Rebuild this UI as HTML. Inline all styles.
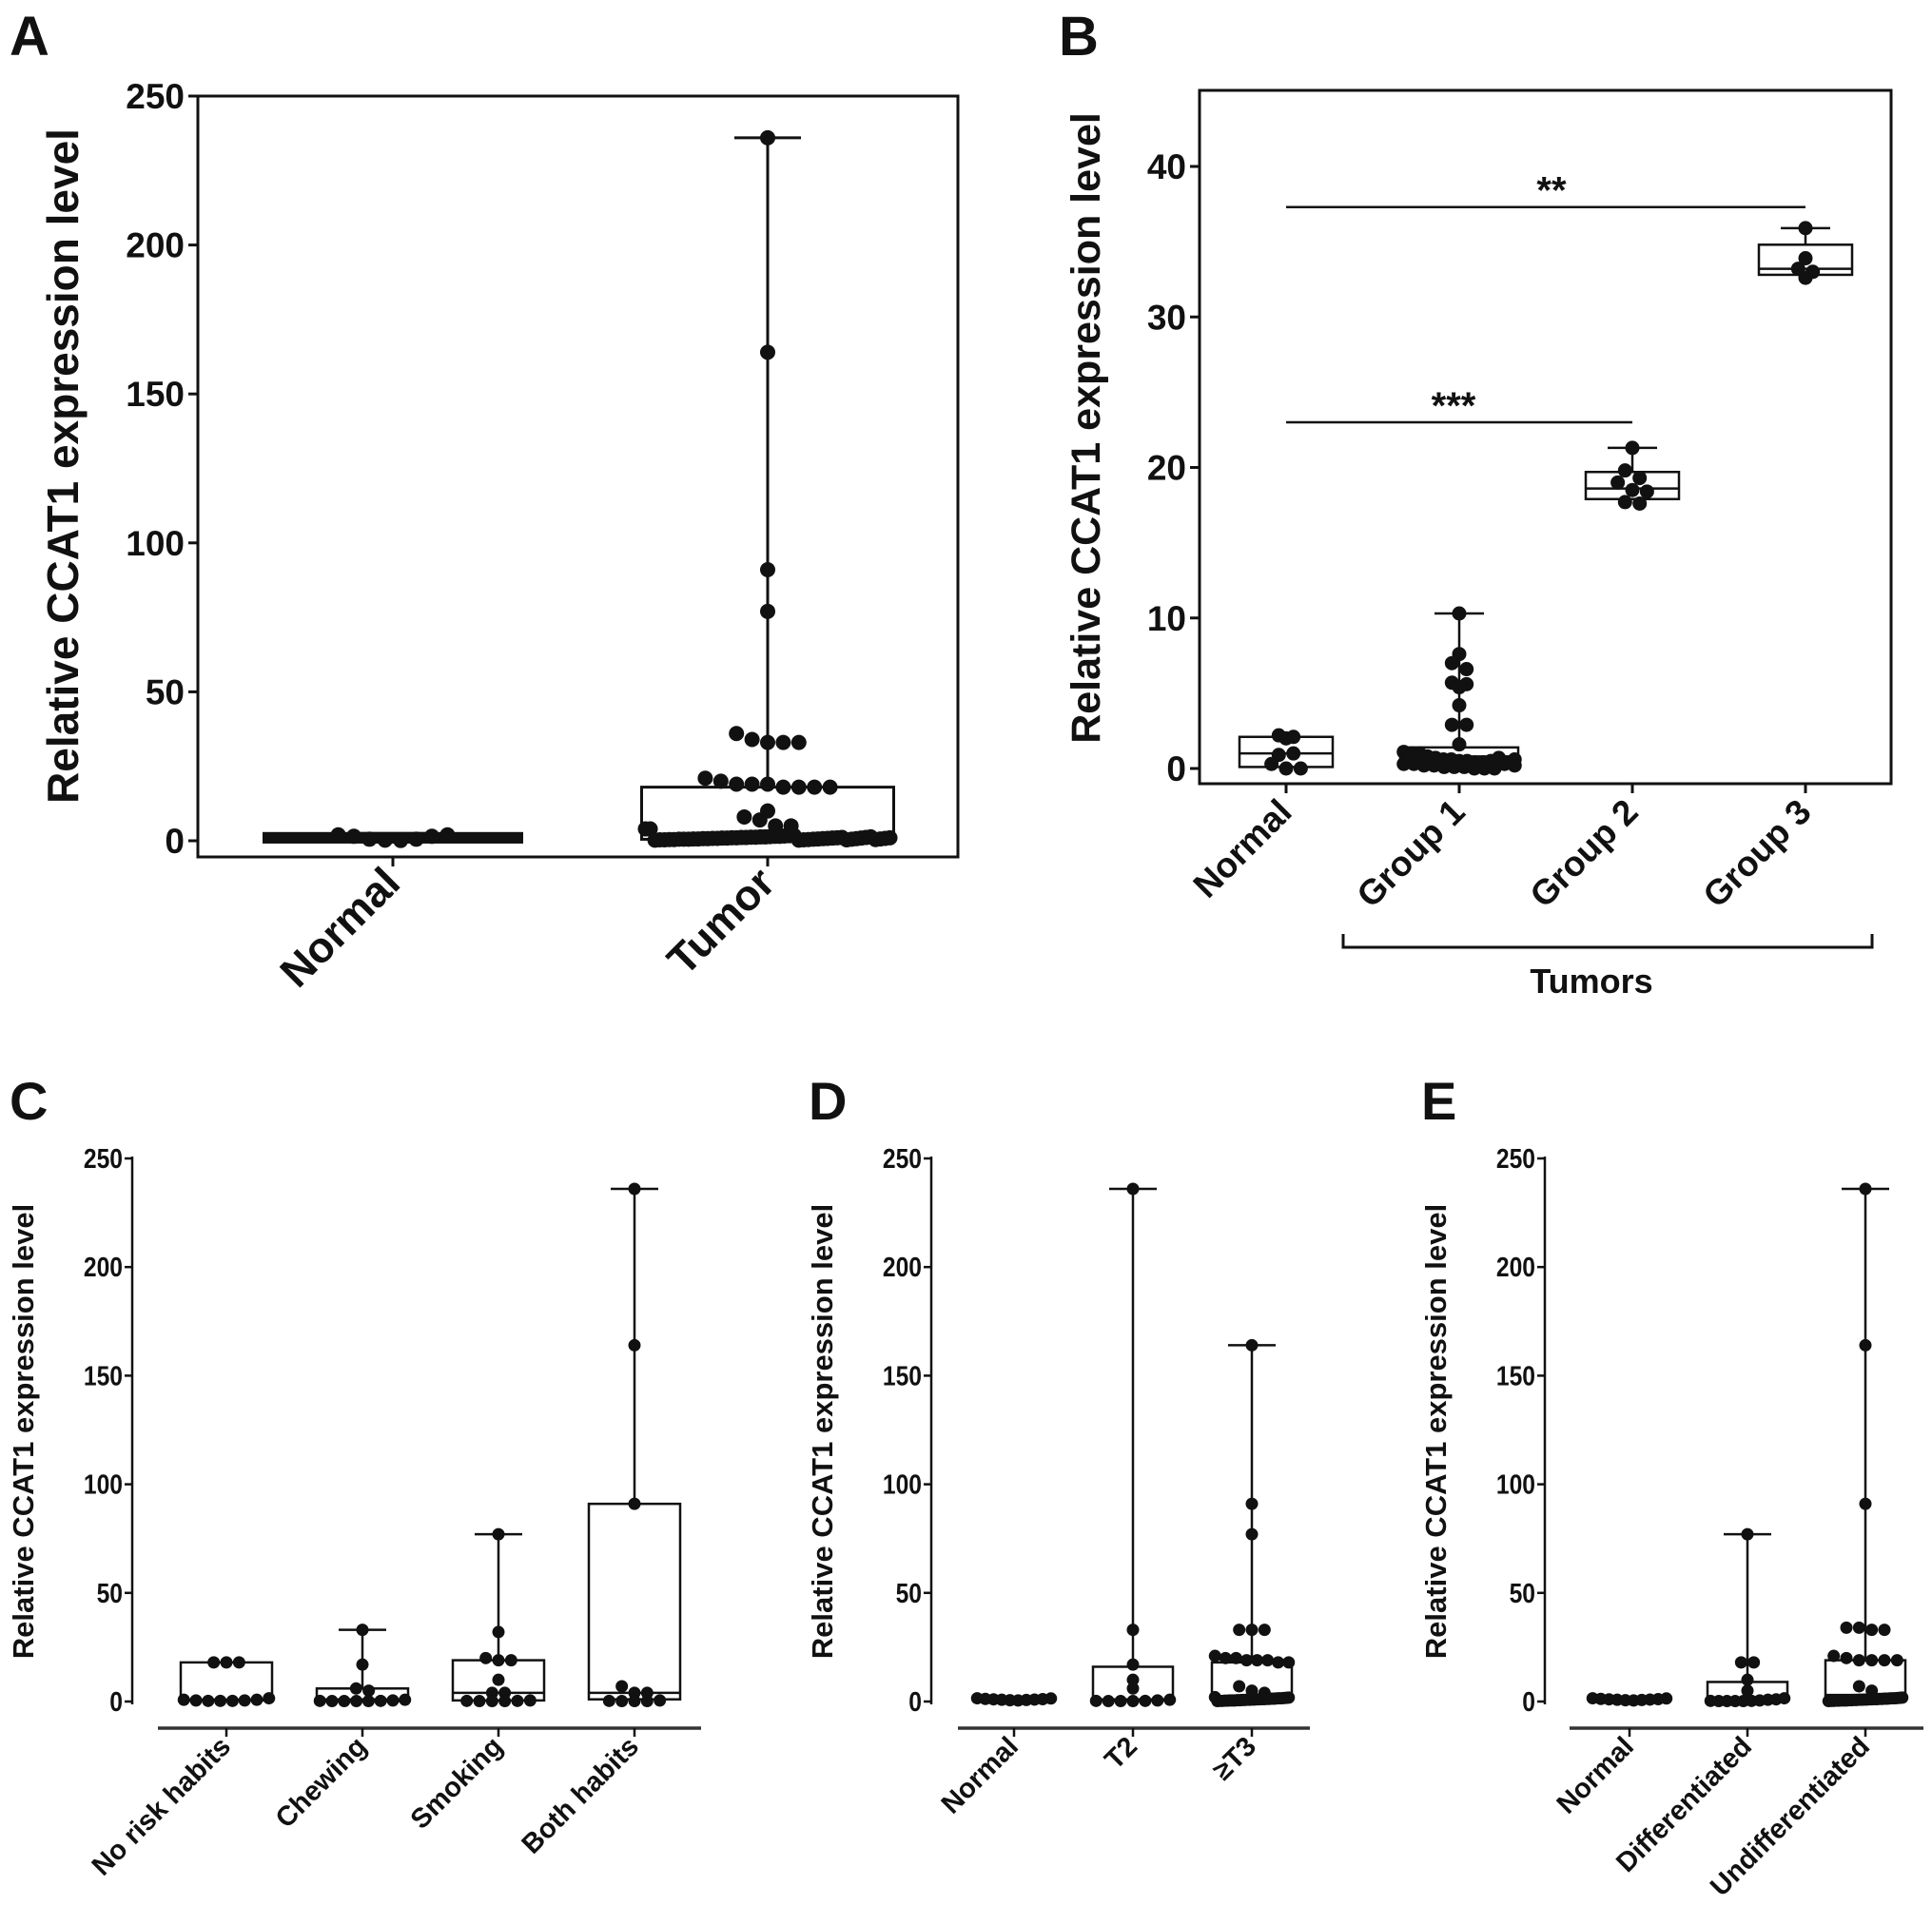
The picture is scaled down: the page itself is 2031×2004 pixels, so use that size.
<!DOCTYPE html>
<html><head><meta charset="utf-8"><style>
html,body{margin:0;padding:0;background:#fff}
svg{display:block}
text{font-family:"Liberation Sans",sans-serif;font-weight:bold;fill:#111}
</style></head><body>
<svg id="fig" width="2031" height="2004" viewBox="0 0 2031 2004" xmlns="http://www.w3.org/2000/svg">
<g id="layer"></g>
</svg>
<script>
// ---------- DATA ----------
const smallVals = [0.2,0.3,0.3,0.4,0.4,0.5,0.5,0.5,0.6,0.6,0.7,0.7,0.8,0.8,0.9,0.9,1.0,1.0,1.1,1.1,1.2,1.2,1.3,1.3,1.4,1.5,1.5,1.6,1.7,1.8,0.2,0.3,0.4,0.5,0.6,0.7,0.8,0.9,1.0,1.1,0.3,0.5,0.7,0.9,1.1,1.3,0.4,0.6,0.8,1.0];
const aCategories = ["Normal","Tumor"];
const aNormal = [2.0,1.5,0.5,0.2,0.1,0.5,1.5,2.0];
const aTumor = [236,164,91,77,36,34,33,33,33,21,20,19,19,19,18,18,18,18,10,8,7,5,5,4,4].concat(smallVals);
const aStats = [[0.5,1,1.5,0.5,1.5],[0.5,2,18,0.5,236]]; // q1,med,q3,min,max
const aTicks = [0,50,100,150,200,250];

const bCategories = ["Normal","Group 1","Group 2","Group 3"];
const bNormal = [2.2,2.0,2.1,0.3,0.0,0.0,0.9,1.0];
const bGroup1 = [10.3,7.6,7.0,6.6,5.7,5.6,5.4,4.2,2.9,2.9,1.6,1.1,1.0,1.0,0.8,0.7,0.6,0.6,0.5,0.5,0.4,0.4,0.3,0.3,0.2,0.2,0.1,0.1,0.1,0.0,0.0,0.0,0.3,0.5,0.7,0.2,0.4,0.6];
const bGroup2 = [21.3,19.8,19.3,19.0,18.5,18.4,17.7,17.6];
const bGroup3 = [35.9,33.9,33.2,33.0,32.6];
const bStats = [[0.1,1.0,2.1,0.1,2.1],[0.3,0.8,1.4,0.0,10.3],[17.9,18.6,19.7,17.6,21.3],[32.8,33.2,34.8,32.5,35.9]];
const bTicks = [0,10,20,30,40];
const bSig = [[0,3,37.3,"**"],[0,2,23.0,"***"]];

const cCategories = ["No risk habits","Chewing","Smoking","Both habits"];
const cNoRisk = [18,18,18,0.8,0.5,0.3,0.3,0.3,0.5,0.8,1.5];
const cChewing = [33,17,6,5,0.3,0.2,0.2,0.2,0.2,0.3,0.5,0.8];
const cSmoking = [77,32,20,19,19,10,4,4,0.3,0.2,0.2,0.2,0.3,0.5];
const cBoth = [236,164,91,7,4,4,0.3,0.2,0.2,0.2,0.5];
const cStats = [[0.5,0.8,18,null,null],[0.2,1,6,0.2,33],[0.5,4,19,0.2,77],[1,4,91,0.2,236]];
const cdeTicks = [0,50,100,150,200,250];

const dCategories = ["Normal","T2","\u2265T3"];
const dNormal = [1.5,1.2,1.0,0.8,0.6,0.5,0.7,0.9,1.1,1.4];
const dT2 = [236,33,17,10,6,0.3,0.2,0.2,0.2,0.3,0.5,0.8];
const dT3 = [164,91,77,33,33,33,21,20,20,19,19,19,18,18,7,5,4,2].concat(smallVals.slice(0,30));
const dStats = [[0.6,1,1.4,0.5,1.5],[0.5,1,16,0.2,236],[0.5,2,18,0.2,164]];

const eCategories = ["Normal","Differentiated","Undifferentiated"];
const eNormal = dNormal.slice();
const eDiff = [77,18,18,10,5,0.3,0.2,0.2,0.2,0.2,0.3,0.5,0.8,1.0,1.5];
const eUndiff = [236,164,91,34,34,33,33,21,20,19,19,19,19,7,5].concat(smallVals.slice(0,30));
const eStats = [[0.6,1,1.4,0.5,1.5],[0.2,1,9,0.2,77],[0.2,3,19,0.2,236]];

// ---------- DRAWING ----------
const NS="http://www.w3.org/2000/svg";
const root=document.getElementById('layer');
function el(tag,attrs,parent,txt){const e=document.createElementNS(NS,tag);for(const k in attrs)e.setAttribute(k,attrs[k]);if(txt!==undefined)e.textContent=txt;(parent||root).appendChild(e);return e;}
function linScale(d0,d1,r0,r1){return v=>r0+(v-d0)*(r1-r0)/(d1-d0);}

function drawGroup(g,xc,vals,st,y,opt){
  const [q1,med,q3,mn,mx]=st;const hw=opt.boxW/2,cw=opt.capW/2,sw=opt.sw;
  if(mx!==null){
    const w1=el('line',{x1:xc,x2:xc,y1:y(mx),y2:y(q3),stroke:'#111','stroke-width':sw},g);
    
    const c1=el('line',{x1:xc-cw,x2:xc+cw,y1:y(mx),y2:y(mx),stroke:'#111','stroke-width':sw},g);
    
  }
  const h=Math.max(1,y(q1)-y(q3));
  const box=el('rect',{x:xc-hw,y:y(q3),width:2*hw,height:h,fill:'none',stroke:'#111','stroke-width':sw},g);
  
  const md=el('line',{x1:xc-hw,x2:xc+hw,y1:y(med),y2:y(med),stroke:'#111','stroke-width':sw},g);
  
  const r=opt.r,bins={};
  vals.forEach(v=>{const py=y(v);const k=Math.round(py/(r*1.8));(bins[k]=bins[k]||[]).push(py);});
  for(const k in bins){const arr=bins[k],n=arr.length;const sp=n>1?Math.min(r*2.05,(opt.boxW-r)/(n-1)):0;
    arr.forEach((py,i)=>{const off=(i-(n-1)/2)*sp;
      const c=el('circle',{cx:xc+off,cy:py,r:r,fill:'#111'},g);
      });}
}

// Panel A
(function(){
  const g=el('g',{});
  const L=208,R=1007,T=101,B=901;
  const y=linScale(0,250,884,101);
  const x=linScale(0,1,413,807);
  const fr=el('rect',{x:L,y:T,width:R-L,height:B-T,fill:'none',stroke:'#111','stroke-width':3},g);
  
  aTicks.forEach(t=>{el('line',{x1:L-10,x2:L,y1:y(t),y2:y(t),stroke:'#111','stroke-width':3},g);
    const tl=el('text',{x:L-14,y:y(t)+13,'text-anchor':'end','font-size':37},g,t);
    });
  const yt=el('text',{transform:'translate(82,490) rotate(-90)','text-anchor':'middle','font-size':46},g,'Relative CCAT1 expression level');
  
  aCategories.forEach((c,i)=>{el('line',{x1:x(i),x2:x(i),y1:B,y2:B+10,stroke:'#111','stroke-width':3},g);
    const t=el('text',{transform:`translate(${x(i)+10},${B+30}) rotate(-45)`,'text-anchor':'end','font-size':45},g,c);
    });
  const opt={boxW:265,capW:70,sw:3,r:8};
  drawGroup(g,x(0),aNormal,aStats[0],y,Object.assign({},opt,{sw:9}));
  drawGroup(g,x(1),aTumor,aStats[1],y,opt);
  const lt=el('text',{x:10,y:58,'font-size':58},g,'A');
})();

// Panel B
(function(){
  const g=el('g',{});
  const L=1261,R=1988,T=95,B=824;
  const y=linScale(0,40,808,175);
  const x=linScale(0,1,1352,1534);
  const fr=el('rect',{x:L,y:T,width:R-L,height:B-T,fill:'none',stroke:'#111','stroke-width':3},g);
  
  bTicks.forEach(t=>{el('line',{x1:L-10,x2:L,y1:y(t),y2:y(t),stroke:'#111','stroke-width':3},g);
    const tl=el('text',{x:L-14,y:y(t)+13,'text-anchor':'end','font-size':37},g,t);
    });
  const yt=el('text',{transform:'translate(1156,450) rotate(-90)','text-anchor':'middle','font-size':43},g,'Relative CCAT1 expression level');
  
  bCategories.forEach((c,i)=>{el('line',{x1:x(i),x2:x(i),y1:B,y2:B+10,stroke:'#111','stroke-width':3},g);
    const t=el('text',{transform:`translate(${x(i)+8},${B+32}) rotate(-45)`,'text-anchor':'end','font-size':37},g,c);
    });
  const opt={boxW:98,capW:52,sw:2.5,r:7.5};
  [bNormal,bGroup1,bGroup2,bGroup3].forEach((v,i)=>drawGroup(g,x(i),v,bStats[i],y,i==1?Object.assign({},opt,{boxW:124}):opt));
  bSig.forEach(s=>{const l=el('line',{x1:x(s[0]),x2:x(s[1]),y1:y(s[2]),y2:y(s[2]),stroke:'#111','stroke-width':2.5},g);
    
    const t=el('text',{x:(x(s[0])+x(s[1]))/2+(s[3].length==3?-6:6),y:y(s[2])-4,'text-anchor':'middle','font-size':40},g,s[3]);
    });
  const br=el('path',{d:`M1412 982 V996 H1968 V982`,fill:'none',stroke:'#111','stroke-width':3},g);
  
  const tt=el('text',{x:1673,y:1044,'text-anchor':'middle','font-size':36},g,'Tumors');
  
  const lt=el('text',{x:1113,y:58,'font-size':58},g,'B');
})();

// Panels C/D/E
function smallPanel(cfg){
  const g=el('g',{});
  const y=linScale(0,250,1789,1218);
  const x=linScale(0,1,cfg.x0,cfg.x1);
  const ya=el('line',{x1:cfg.ax,x2:cfg.ax,y1:1216,y2:1792,stroke:'#111','stroke-width':2.5},g);
  
  const xa=el('line',{x1:cfg.bL,x2:cfg.bR,y1:1817,y2:1817,stroke:'#333','stroke-width':3.5},g);
  
  cdeTicks.forEach(t=>{el('line',{x1:cfg.ax-8,x2:cfg.ax,y1:y(t),y2:y(t),stroke:'#111','stroke-width':2.5},g);
    const tl=el('text',{x:cfg.ax-10,y:y(t)+10,'text-anchor':'end','font-size':29,transform:`translate(${cfg.ax-10},0) scale(0.85,1) translate(${-(cfg.ax-10)},0)`},g,t);
    });
  const yt=el('text',{transform:`translate(${cfg.ax-104},1505) rotate(-90)`,'text-anchor':'middle','font-size':31},g,'Relative CCAT1 expression level');
  
  cfg.cats.forEach((c,i)=>{el('line',{x1:x(i),x2:x(i),y1:1817,y2:1826,stroke:'#111','stroke-width':2.5},g);
    const t=el('text',{transform:`translate(${x(i)+6},${1838}) rotate(-45)`,'text-anchor':'end','font-size':29},g,c);
    });
  const opt={boxW:cfg.boxW,capW:50,sw:2.5,r:6.5};
  cfg.series.forEach((v,i)=>drawGroup(g,x(i),v,cfg.stats[i],y,opt));
  const lt=el('text',{x:cfg.lx,y:1177,'font-size':56},g,cfg.label);
}
smallPanel({name:'panel-c',label:'C',lx:10,ax:139,bL:166,bR:737,x0:238,x1:381,boxW:96,cats:cCategories,series:[cNoRisk,cChewing,cSmoking,cBoth],stats:cStats});
smallPanel({name:'panel-d',label:'D',lx:850,ax:979,bL:1007,bR:1377,x0:1066,x1:1191,boxW:84,cats:dCategories,series:[dNormal,dT2,dT3],stats:dStats});
smallPanel({name:'panel-e',label:'E',lx:1494,ax:1624,bL:1650,bR:2022,x0:1713,x1:1837,boxW:84,cats:eCategories,series:[eNormal,eDiff,eUndiff],stats:eStats});
</script>
</body></html>
